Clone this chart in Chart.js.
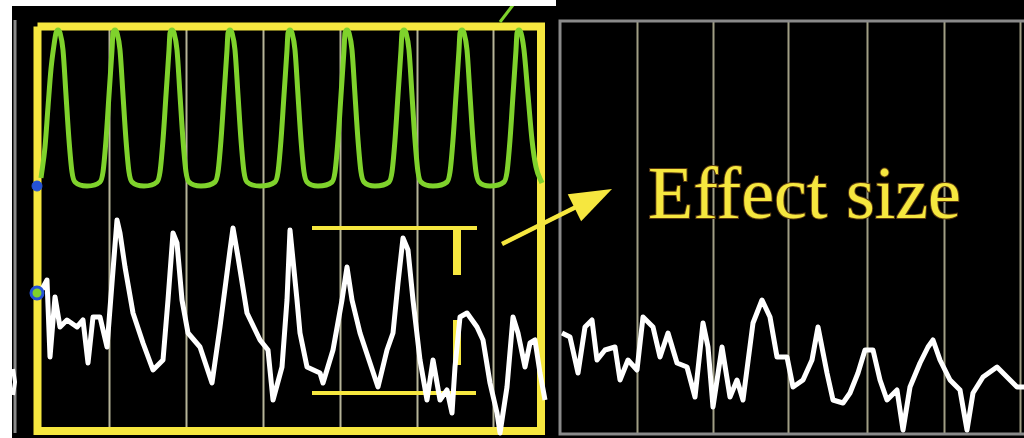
<!DOCTYPE html>
<html>
<head>
<meta charset="utf-8">
<script src="https://cdn.jsdelivr.net/npm/chart.js@4/dist/chart.umd.min.js"></script>
<style>
  html, body { margin: 0; padding: 0; background: #fff; }
  #wrap { position: relative; width: 1024px; height: 438px; background: #000; overflow: hidden; }
  #wrap canvas { position: absolute; left: 0; top: 0; }
  .strip { position: absolute; background: #fff; }
</style>
</head>
<body>
<div id="wrap">
  <canvas id="scope" width="1024" height="438"></canvas>
  <div class="strip" style="left:0;top:0;width:556px;height:6px"></div>
  <div class="strip" style="left:0;top:0;width:12px;height:438px"></div>
</div>
<script>
// time in ms (0..1024), signal level in arbitrary units (-219..219)

// stimulus channel (green), 9 cycles inside the selected window
var greenTrace = [
  [41,41],[45,72],[48,112],[51,150],[54,174],[56,186],
  [58,189],[60,186],[63,169],[66,124],[69,79],[72,47],[75,37],[87,33],
  [100,37],[103,47],[106,79],[109,124],[112,169],[113,186],[115,189],[117,186],[120,169],[123,124],[126,79],[129,47],[132,37],[144,33],
  [157,37],[160,47],[163,79],[166,124],[169,169],[170,186],[172,189],[174,186],[177,169],[180,124],[183,79],[186,47],[189,37],[201,33],
  [215,37],[218,47],[221,79],[224,124],[227,169],[228,186],[230,189],[232,186],[235,169],[238,124],[241,79],[244,47],[247,37],[260,33],
  [275,37],[278,47],[281,79],[284,124],[287,169],[288,186],[290,189],[292,186],[295,169],[298,124],[301,79],[304,47],[307,37],[318,33],
  [332,37],[335,47],[338,79],[341,124],[344,169],[345,186],[347,189],[349,186],[352,169],[355,124],[358,79],[361,47],[364,37],[375,33],
  [389,37],[392,47],[395,79],[398,124],[401,169],[402,186],[404,189],[406,186],[409,169],[412,124],[415,79],[418,47],[421,37],[433,33],
  [447,37],[450,47],[453,79],[456,124],[459,169],[460,186],[462,189],[464,186],[467,169],[470,124],[473,79],[476,47],[479,37],[490,33],
  [504,37],[507,47],[510,79],[513,124],[516,169],[517,186],[519,189],[521,186],[524,169],[528,124],[532,79],[536,52],[542,36]
];

// response channel (white), stimulation sweep
var responseOn = [
  [40,-74],[47,-61],[50,-138],[55,-78],[60,-108],[67,-101],[77,-108],[83,-101],[88,-144],[93,-98],
  [100,-98],[107,-128],[112,-64],[117,-1],[120,-14],[125,-48],[133,-94],[143,-124],[153,-151],[163,-141],
  [168,-81],[173,-14],[177,-24],[182,-81],[188,-114],[200,-128],[212,-164],[220,-108],[230,-31],[233,-9],
  [238,-38],[247,-94],[260,-121],[268,-131],[273,-181],[282,-148],[287,-81],[290,-11],[297,-81],[300,-114],
  [307,-148],[320,-154],[323,-164],[333,-131],[342,-81],[347,-48],[352,-81],[360,-114],[370,-144],[378,-168],
  [387,-131],[393,-114],[398,-64],[403,-19],[408,-31],[413,-81],[420,-141],[427,-181],[433,-141],[440,-181],
  [447,-171],[452,-194],[455,-148],[460,-98],[467,-94],[477,-108],[483,-121],[490,-164],[497,-194],[500,-214],
  [507,-168],[513,-98],[518,-114],[525,-148],[530,-124],[535,-121],[540,-154],[545,-181]
];

// response channel (white), sweep without stimulation
var responseOff = [
  [562,-114],[570,-118],[578,-154],[585,-108],[592,-101],[597,-141],[605,-131],[615,-128],[620,-161],[628,-141],
  [637,-151],[643,-98],[653,-108],[660,-138],[668,-114],[677,-144],[687,-148],[695,-178],[703,-104],[708,-128],
  [713,-188],[722,-128],[730,-178],[737,-161],[743,-181],[753,-104],[762,-81],[770,-98],[777,-138],[787,-138],
  [793,-168],[803,-161],[812,-141],[818,-108],[827,-154],[833,-181],[843,-184],[850,-174],[858,-154],[865,-131],
  [873,-131],[880,-161],[887,-181],[897,-171],[903,-211],[910,-168],[920,-144],[928,-128],[933,-121],[940,-141],
  [950,-161],[960,-171],[967,-211],[973,-174],[983,-158],[997,-148],[1007,-158],[1017,-168],[1024,-168]
];

var responseTail = [[13,-150],[15,-163],[13,-176]];
var cursorStub = [[500,197],[513,214]];
var channelMarkers = [[37,33],[37,-74]];

// screen divisions
var gridLeft = [109, 186, 263, 340, 417, 493];
var gridRight = [637, 713, 788, 867, 944, 1020];
var leftFrame = [[15,199],[15,-214]];
var rightFrame = [[1030,198],[560,198],[560,-215],[1030,-215]];

// annotation
var selectionBox = [[37.5,192.5],[541,192.5],[541,-212],[37.5,-212],[37.5,192.5]];
var effectTop = [[312,-9],[477,-9]];
var effectBottom = [[312,-174],[476,-174]];
var effectDashA = [[457,-9],[457,-56]];
var effectDashB = [[457,-101],[457,-146]];
var arrowLine = [[502,-25],[612,30]];
var labelText = 'Effect size';
var labelAt = [648, 1];

function pts(arr) {
  return arr.map(function (p) { return { x: p[0], y: p[1] }; });
}

var YELLOW = '#f6e73f';
var GREEN = '#7fd22c';

function seg(arr, color, width, order) {
  return {
    data: pts(arr),
    borderColor: color,
    borderWidth: width,
    pointRadius: 0,
    tension: 0,
    borderCapStyle: 'butt',
    borderJoinStyle: 'miter',
    order: order
  };
}

var scopeDecor = {
  id: 'scopeDecor',
  beforeDatasetsDraw: function (chart) {
    var ctx = chart.ctx, xs = chart.scales.x, ys = chart.scales.y;
    ctx.save();
    ctx.lineWidth = 2;
    ctx.strokeStyle = '#b6b498';
    gridLeft.forEach(function (t) {
      var px = Math.round(xs.getPixelForValue(t)) + 0.5;
      ctx.beginPath();
      ctx.moveTo(px, ys.getPixelForValue(192.5));
      ctx.lineTo(px, ys.getPixelForValue(-212));
      ctx.stroke();
    });
    ctx.strokeStyle = '#a09e84';
    gridRight.forEach(function (t) {
      var px = Math.round(xs.getPixelForValue(t)) + 0.5;
      ctx.beginPath();
      ctx.moveTo(px, ys.getPixelForValue(198));
      ctx.lineTo(px, ys.getPixelForValue(-215));
      ctx.stroke();
    });
    ctx.restore();
  },
  afterDatasetsDraw: function (chart) {
    var ctx = chart.ctx, xs = chart.scales.x, ys = chart.scales.y;
    var x0 = xs.getPixelForValue(arrowLine[0][0]), y0 = ys.getPixelForValue(arrowLine[0][1]);
    var x1 = xs.getPixelForValue(arrowLine[1][0]), y1 = ys.getPixelForValue(arrowLine[1][1]);
    var len = Math.hypot(x1 - x0, y1 - y0);
    var ux = (x1 - x0) / len, uy = (y1 - y0) / len;
    var bx = x1 - ux * 42, by = y1 - uy * 42;
    ctx.save();
    ctx.strokeStyle = YELLOW;
    ctx.fillStyle = YELLOW;
    ctx.lineWidth = 4.5;
    ctx.beginPath();
    ctx.moveTo(x0, y0);
    ctx.lineTo(bx + ux * 4, by + uy * 4);
    ctx.stroke();
    ctx.beginPath();
    ctx.moveTo(x1, y1);
    ctx.lineTo(bx - uy * 15, by + ux * 15);
    ctx.lineTo(bx + uy * 15, by - ux * 15);
    ctx.closePath();
    ctx.fill();

    ctx.font = '74px "Liberation Serif", "DejaVu Serif", serif';
    ctx.textBaseline = 'alphabetic';
    ctx.textAlign = 'left';
    ctx.lineWidth = 2;
    ctx.strokeStyle = '#5a3a10';
    var tx = xs.getPixelForValue(labelAt[0]), ty = ys.getPixelForValue(labelAt[1]);
    ctx.strokeText(labelText, tx, ty);
    ctx.fillText(labelText, tx, ty);
    ctx.restore();
  }
};

var markerSet = {
  data: pts(channelMarkers),
  showLine: false,
  pointRadius: [5, 6],
  pointBackgroundColor: ['#2452d6', GREEN],
  pointBorderColor: '#2452d6',
  pointBorderWidth: [1, 3],
  order: 0
};

var greenSet = seg(greenTrace, GREEN, 5, 1);
greenSet.cubicInterpolationMode = 'monotone';
greenSet.borderJoinStyle = 'round';

var whiteOn = seg(responseOn, '#ffffff', 5, 1);
var whiteOff = seg(responseOff, '#ffffff', 5, 1);
var whiteTail = seg(responseTail, '#ffffff', 4, 1);
whiteOn.borderJoinStyle = whiteOff.borderJoinStyle = 'round';

new Chart(document.getElementById('scope'), {
  type: 'line',
  data: {
    datasets: [
      markerSet,
      greenSet,
      whiteOn,
      whiteOff,
      whiteTail,
      seg(cursorStub, GREEN, 3, 2),
      seg(effectTop, YELLOW, 4, 3),
      seg(effectBottom, YELLOW, 4, 3),
      seg(effectDashA, YELLOW, 8, 3),
      seg(effectDashB, YELLOW, 8, 3),
      seg(selectionBox, YELLOW, 8, 4),
      seg(leftFrame, '#8a8a8a', 3, 5),
      seg(rightFrame, '#8a8a8a', 3, 5)
    ]
  },
  options: {
    responsive: false,
    animation: false,
    devicePixelRatio: 1,
    layout: { padding: 0, autoPadding: false },
    plugins: { legend: { display: false }, tooltip: { enabled: false } },
    scales: {
      x: { type: 'linear', min: 0, max: 1024, display: false },
      y: { type: 'linear', min: -219, max: 219, display: false }
    }
  },
  plugins: [scopeDecor]
});
</script>
</body>
</html>
